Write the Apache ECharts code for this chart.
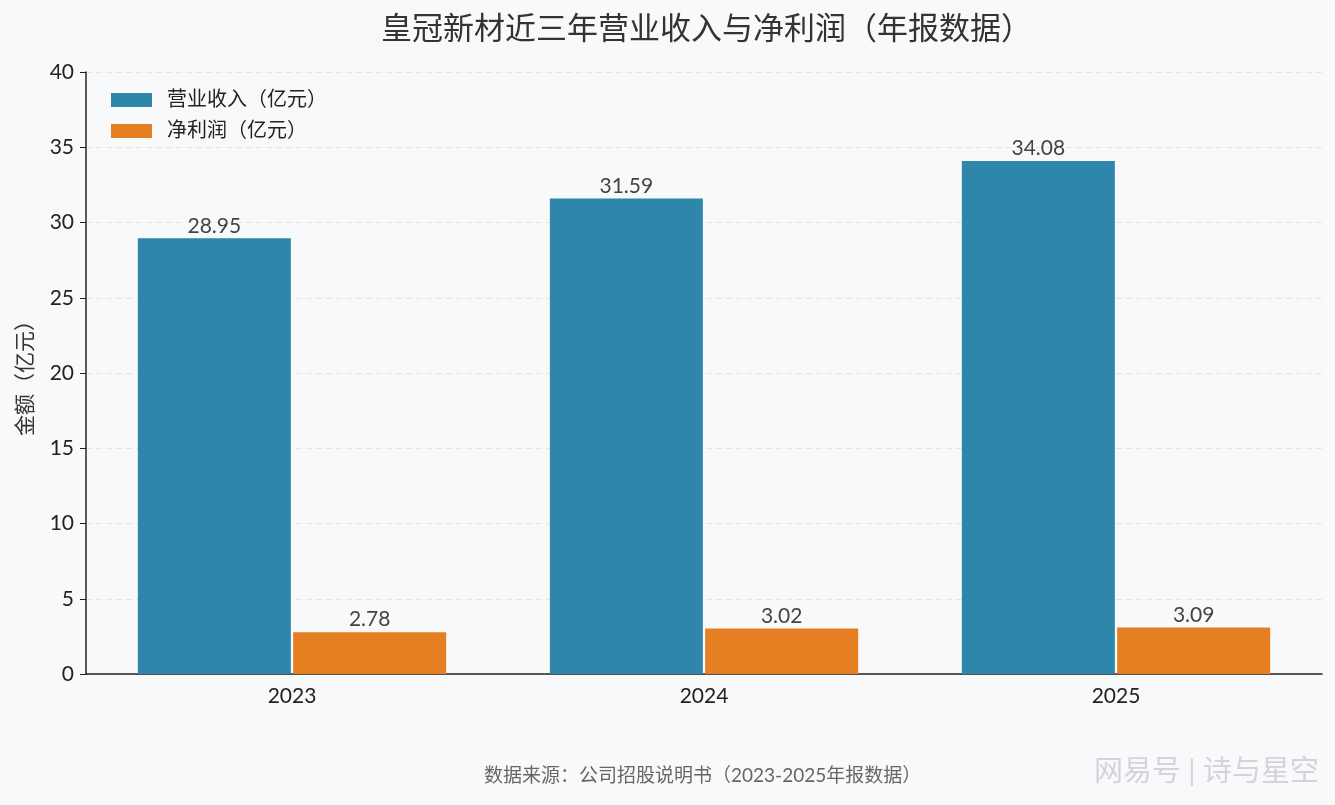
<!DOCTYPE html>
<html><head><meta charset="utf-8">
<script src="https://cdn.jsdelivr.net/npm/echarts@6/dist/echarts.min.js"></script>
<style>html,body{margin:0;padding:0;background:#f8f9fb;}#c{width:1335px;height:805px;}</style>
</head><body><div id="c"></div>
<script>
const years = ['2023', '2024', '2025'];
const revenue = [28.95, 31.59, 34.08];
const profit = [2.78, 3.02, 3.09];
const yTicks = [0, 5, 10, 15, 20, 25, 30, 35, 40];

const FONT = 'Lato, "Noto Sans CJK SC", "Noto Sans", sans-serif';
const chart = echarts.init(document.getElementById('c'));
chart.setOption({
  backgroundColor: '#f8f9fb',
  textStyle: { fontFamily: FONT },
  title: {
    text: '皇冠新材近三年营业收入与净利润（年报数据）',
    left: 376, top: 9,
    textStyle: { fontSize: 31, fontWeight: 'normal', color: '#333', fontFamily: FONT }
  },
  legend: {
    orient: 'vertical', left: 106, top: 85,
    icon: 'rect',
    itemWidth: 41, itemHeight: 14, itemGap: 11,
    textStyle: { fontSize: 20, lineHeight: 20, color: '#222', fontFamily: FONT, padding: [0, 0, 0, 10] },
    data: ['营业收入（亿元）', '净利润（亿元）']
  },
  grid: { left: 86, right: 13, top: 72, bottom: 131 },
  xAxis: {
    type: 'category', data: years,
    axisLine: { lineStyle: { color: '#222', width: 1.5 } },
    axisTick: { alignWithLabel: true, length: 6, lineStyle: { color: '#222' } },
    axisLabel: { fontSize: 21, color: '#222', margin: 12 }
  },
  yAxis: {
    type: 'value', min: yTicks[0], max: yTicks[yTicks.length - 1], interval: 5,
    name: '金额（亿元）', nameLocation: 'middle', nameGap: 50, nameRotate: 90,
    nameTextStyle: { fontSize: 21, color: '#333' },
    axisLine: { show: true, lineStyle: { color: '#222', width: 1.5 } },
    axisTick: { show: true, length: 6, lineStyle: { color: '#222' } },
    axisLabel: { fontSize: 21, color: '#222', margin: 12 },
    splitLine: { lineStyle: { color: '#e3e6ea', type: [6, 4] } }
  },
  series: [
    {
      name: '营业收入（亿元）', type: 'bar', data: revenue,
      barWidth: 153, barGap: '1.5%',
      itemStyle: { color: '#2e86ab' },
      label: { show: true, position: 'top', distance: 2, fontSize: 21, color: '#444', formatter: p => p.value.toFixed(2) }
    },
    {
      name: '净利润（亿元）', type: 'bar', data: profit,
      barWidth: 153,
      itemStyle: { color: '#e67e22' },
      label: { show: true, position: 'top', distance: 2, fontSize: 21, color: '#444', formatter: p => p.value.toFixed(2) }
    }
  ],
  graphic: [
    { type: 'text', left: 484, top: 766, style: { text: '数据来源：公司招股说明书（2023-2025年报数据）', fontSize: 19, fill: '#666', fontFamily: FONT } },
    { type: 'text', right: 16, top: 757, style: { text: '网易号 | 诗与星空', fontSize: 29, fill: '#d2d4d8', fontFamily: FONT } }
  ]
});
</script></body></html>
